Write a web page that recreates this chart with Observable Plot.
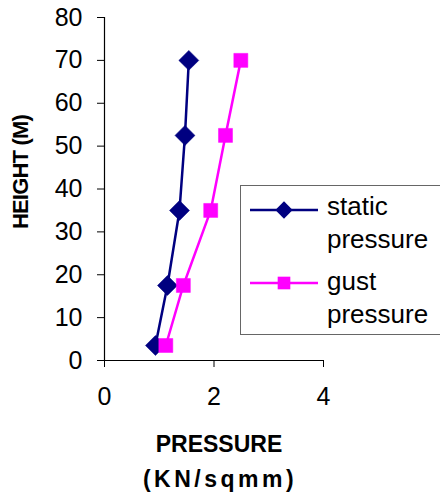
<!DOCTYPE html>
<html>
<head>
<meta charset="utf-8">
<script src="https://cdn.jsdelivr.net/npm/d3@7"></script>
<script src="https://cdn.jsdelivr.net/npm/@observablehq/plot@0.6"></script>
<style>
  html, body { margin: 0; padding: 0; background: #fff; }
  #wrap { position: relative; width: 440px; height: 495px; overflow: hidden; font-family: "Liberation Sans", Arial, sans-serif; }
  #legend { position: absolute; left: 240px; top: 185px; width: 230px; height: 148px; border: 1px solid #666; background: #fff; }
  .ltxt { position: absolute; left: 86px; font-size: 26px; line-height: 32.5px; color: #000; white-space: nowrap; }
  .lsw { position: absolute; left: 9px; }
</style>
</head>
<body>
<div id="wrap"></div>
<script>
const heights = [3.5, 17.5, 35, 52.5, 70];
const staticPressure = [0.93, 1.15, 1.37, 1.47, 1.54];
const gustPressure = [1.12, 1.44, 1.94, 2.21, 2.49];
const seriesNames = ["static\npressure", "gust\npressure"];
const seriesColors = ["#000080", "#FF00FF"];
const xTicks = [0, 2, 4];
const yTicks = [0, 10, 20, 30, 40, 50, 60, 70, 80];
const xTitle = ["PRESSURE", "(KN/sqmm)"];
const yTitle = "HEIGHT (M)";

const staticData = heights.map((h, i) => ({x: staticPressure[i], y: h}));
const gustData = heights.map((h, i) => ({x: gustPressure[i], y: h}));

const chart = Plot.plot({
  width: 440,
  height: 495,
  marginLeft: 104,
  marginRight: 117,
  marginTop: 17,
  marginBottom: 135,
  style: {fontFamily: "'Liberation Sans', Arial, sans-serif", fontSize: "25px", color: "#000", background: "#fff", overflow: "visible"},
  x: {domain: [0, 4]},
  y: {domain: [0, 80]},
  marks: [
    Plot.axisX({ticks: xTicks, tickFormat: d3.format("d"), tickSize: 7, tickPadding: 20, label: null, stroke: "#000"}),
    Plot.axisY({ticks: yTicks, tickFormat: d3.format("d"), tickSize: 7, tickPadding: 15, label: null, stroke: "#000"}),
    Plot.ruleX([0], {stroke: "#000", strokeWidth: 1.2}),
    Plot.ruleY([0], {stroke: "#000", strokeWidth: 1.2}),
    Plot.line(staticData, {x: "x", y: "y", stroke: seriesColors[0], strokeWidth: 2.5}),
    Plot.dot(staticData, {x: "x", y: "y", symbol: "diamond2", r: 9, fill: seriesColors[0], stroke: seriesColors[0], strokeWidth: 0.5}),
    Plot.line(gustData, {x: "x", y: "y", stroke: seriesColors[1], strokeWidth: 2.5}),
    Plot.dot(gustData, {x: "x", y: "y", symbol: "square", r: 7.9, fill: seriesColors[1], stroke: seriesColors[1], strokeWidth: 0.5}),
    Plot.text([xTitle[0]], {frameAnchor: "bottom", textAnchor: "middle", lineAnchor: "middle", dx: 5, dy: 84, fontWeight: "bold", fontSize: 23, fill: "#000"}),
    Plot.text([xTitle[1]], {frameAnchor: "bottom", textAnchor: "middle", lineAnchor: "middle", dx: 6, dy: 119, fontWeight: "bold", fontSize: 23, fill: "#000", className: "xsub"}),
    Plot.text([yTitle], {frameAnchor: "left", textAnchor: "middle", lineAnchor: "middle", rotate: -90, dx: -84, dy: -17, fontWeight: "bold", fontSize: 22, fill: "#000"})
  ]
});

// letter spacing tweaks for the axis titles
d3.select(chart).selectAll("text").each(function() {
  const s = this.textContent;
  if (s === xTitle[1]) this.style.letterSpacing = "3.5px";
  if (s === yTitle) this.style.letterSpacing = "-0.8px";
});

const wrap = document.getElementById("wrap");
wrap.appendChild(chart);

// Legend (inside plot area, as in the reference)
const legend = document.createElement("div");
legend.id = "legend";
const swatchTop = [24, 97];
const textTop = [4, 79];
const symbols = ["diamond", "square"];
seriesNames.forEach((name, i) => {
  const sw = document.createElementNS("http://www.w3.org/2000/svg", "svg");
  sw.setAttribute("class", "lsw");
  sw.setAttribute("width", 70);
  sw.setAttribute("height", 20);
  sw.style.top = (swatchTop[i] - 10) + "px";
  const ln = document.createElementNS("http://www.w3.org/2000/svg", "line");
  ln.setAttribute("x1", 0); ln.setAttribute("x2", 68);
  ln.setAttribute("y1", 10); ln.setAttribute("y2", 10);
  ln.setAttribute("stroke", seriesColors[i]); ln.setAttribute("stroke-width", 2.5);
  sw.appendChild(ln);
  const sym = document.createElementNS("http://www.w3.org/2000/svg", "path");
  const gen = d3.symbol(symbols[i] === "diamond" ? d3.symbolDiamond2 : d3.symbolSquare, symbols[i] === "diamond" ? 190 : 160);
  sym.setAttribute("d", gen());
  sym.setAttribute("transform", "translate(34,10)");
  sym.setAttribute("fill", seriesColors[i]);
  sw.appendChild(sym);
  legend.appendChild(sw);
  const t = document.createElement("div");
  t.className = "ltxt";
  t.style.top = textTop[i] + "px";
  t.innerHTML = name.split("\n").join("<br>");
  legend.appendChild(t);
});
wrap.appendChild(legend);
</script>
</body>
</html>
